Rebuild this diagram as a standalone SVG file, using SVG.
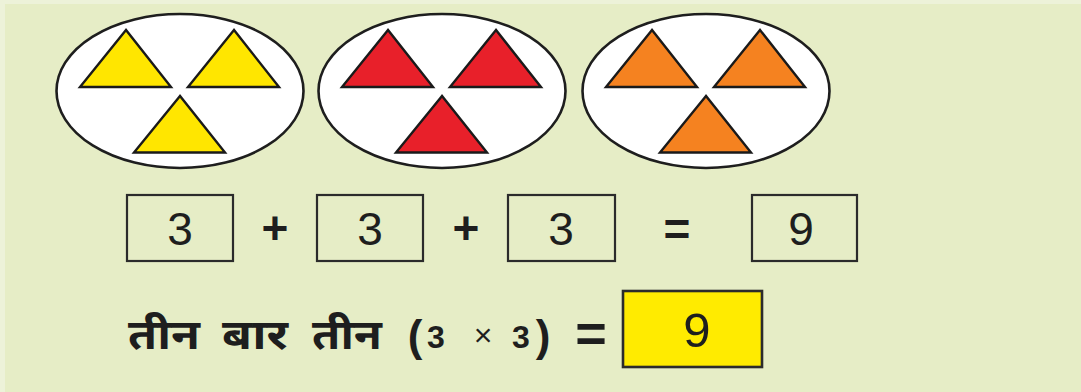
<svg xmlns="http://www.w3.org/2000/svg" width="1081" height="392" viewBox="0 0 1081 392">
  <style>
    .oval { fill: #ffffff; stroke: #1e1e1e; stroke-width: 2.6; }
    .tri { stroke: #1a1a1a; stroke-width: 2.4; stroke-linejoin: miter; }
    .yel { fill: #ffe600; }
    .red { fill: #e8202a; }
    .org { fill: #f58220; }
    .box { fill: none; stroke: #2b2b2b; stroke-width: 2.2; }
    .ybox { fill: #ffeb00; stroke: #2b2b2b; stroke-width: 2.6; }
    .num { font-family: "Liberation Sans", Arial, sans-serif; font-size: 46px; fill: #1e1e1e; text-anchor: middle; }
    .big { font-size: 49px; }
    .op { font-family: "Liberation Sans", Arial, sans-serif; font-size: 46px; font-weight: bold; fill: #1e1e1e; text-anchor: middle; }
    .hin { font-family: "Noto Sans Devanagari", "Lohit Devanagari", "Noto Sans", "FreeSans", sans-serif; font-size: 42px; font-weight: bold; fill: #1e1e1e; }
    .hnum { font-family: "Liberation Sans", Arial, sans-serif; font-weight: bold; fill: #1e1e1e; text-anchor: middle; }
    .par { font-size: 44px; }
    .dig { font-size: 32px; }
    .times { font-size: 32px; font-weight: normal; }
    .eq { font-size: 54px; }
  </style>
  <defs>
    <g id="tris">
      <polygon class="tri" points="-54,30 -100,87 -9,87"/>
      <polygon class="tri" points="54,30 8,87 99,87"/>
      <polygon class="tri" points="0,96 -46,152.5 45,152.5"/>
    </g>
  </defs>

  <rect x="0" y="0" width="1081" height="392" fill="#e6edc6"/>
  <rect x="0" y="0" width="1081" height="4" fill="#edf2d9"/>
  <rect x="0" y="0" width="5" height="392" fill="#edf2d9"/>

  <g id="group-yellow">
    <ellipse class="oval" cx="180" cy="91" rx="123.5" ry="77"/>
    <use href="#tris" x="180" y="0" class="yel"/>
  </g>
  <g id="group-red">
    <ellipse class="oval" cx="442" cy="91" rx="123.5" ry="77"/>
    <use href="#tris" x="442" y="0" class="red"/>
  </g>
  <g id="group-orange">
    <ellipse class="oval" cx="706" cy="91" rx="123.5" ry="77"/>
    <use href="#tris" x="706" y="0" class="org"/>
  </g>

  <g id="addition">
    <rect class="box" x="127" y="195" width="106" height="66"/>
    <text class="num" x="180" y="245">3</text>
    <text class="op" x="275" y="244">+</text>
    <rect class="box" x="317" y="195" width="106" height="66"/>
    <text class="num" x="370" y="245">3</text>
    <text class="op" x="466" y="244">+</text>
    <rect class="box" x="508" y="195" width="107" height="66"/>
    <text class="num" x="561" y="245">3</text>
    <text class="op" x="677" y="245">=</text>
    <rect class="box" x="752" y="195" width="105" height="66"/>
    <text class="num" x="801" y="245">9</text>
  </g>

  <g id="multiplication">
    <text class="hin" x="128" y="349" textLength="72" lengthAdjust="spacingAndGlyphs">तीन</text>
    <text class="hin" x="222" y="349" textLength="66" lengthAdjust="spacingAndGlyphs">बार</text>
    <text class="hin" x="312" y="349" textLength="70" lengthAdjust="spacingAndGlyphs">तीन</text>
    <text class="hnum par" x="415" y="351">(</text>
    <text class="hnum dig" x="436" y="348">3</text>
    <text class="hnum times" x="483" y="346">×</text>
    <text class="hnum dig" x="521" y="348">3</text>
    <text class="hnum par" x="543" y="351">)</text>
    <text class="hnum eq" x="591" y="352">=</text>
    <rect class="ybox" x="623" y="291" width="139" height="76"/>
    <text class="num big" x="697" y="347">9</text>
  </g>
</svg>
